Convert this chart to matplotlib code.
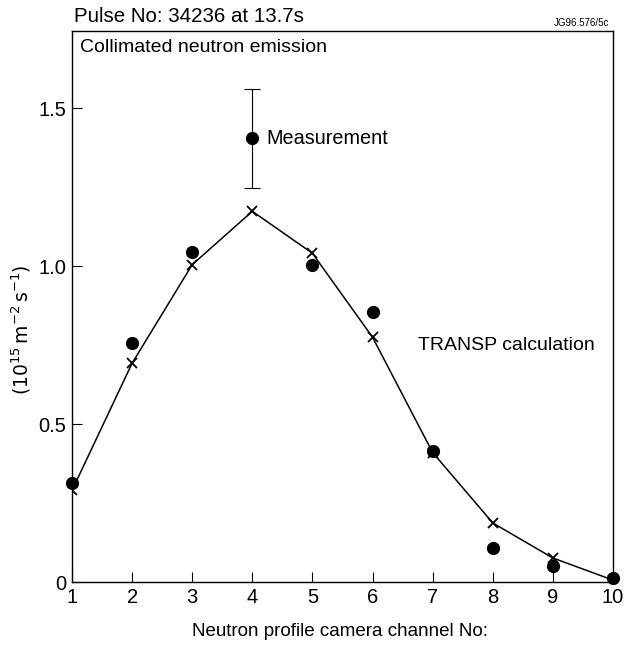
import numpy as np
import matplotlib.pyplot as plt

plt.rcParams['font.family'] = ['Liberation Sans', 'DejaVu Sans']

# camera channels and emission values (10^15 m^-2 s^-1)
channel = np.arange(1, 11)
measured = [0.313, 0.756, 1.044, 1.405, 1.003, 0.854, 0.415, 0.108, 0.05, 0.013]
transp = [0.29, 0.693, 1.005, 1.174, 1.041, 0.775, 0.41, 0.187, 0.076, 0.006]
err_ch = 4
err_lo, err_hi = 1.247, 1.56

xticks = list(range(1, 11))
yticks = [0, 0.5, 1.0, 1.5]
yticklabels = ['0', '0.5', '1.0', '1.5']

fig = plt.figure(figsize=(6.24, 6.45), dpi=100)
ax = fig.add_axes([72/624, 1-582/645, (613-72)/624, (582-31)/645])

ax.plot(channel, transp, color='black', lw=1.1, marker='x', ms=7, mew=1.3, zorder=3)
ax.plot(channel, measured, 'o', color='black', ms=8.5, ls='none', zorder=4, clip_on=False)

m4 = measured[err_ch - 1]
ax.errorbar([err_ch], [m4], yerr=[[m4 - err_lo], [err_hi - m4]], fmt='none',
            ecolor='black', elinewidth=0.8, capsize=6, capthick=0.8)

ax.set_xlim(1, 10)
ax.set_ylim(0, 1.745)
ax.set_xticks(xticks)
ax.set_yticks(yticks)
ax.set_yticklabels(yticklabels)
ax.tick_params(direction='in', length=7, width=0.8, labelsize=14.5, pad=4)
for s in ax.spines.values():
    s.set_linewidth(1.0)

ax.text(4.23, m4, 'Measurement', fontsize=14.3, va='center', ha='left')
ax.text(6.75, 0.75, 'TRANSP calculation', fontsize=14, va='center', ha='left')
ax.text(0.015, 0.985, 'Collimated neutron emission', transform=ax.transAxes,
        fontsize=14, va='top', ha='left')

fig.text(74/624, 1-17/645, 'Pulse No: 34236 at 13.7s', fontsize=14.8, va='center', ha='left')
fig.text(609/624, 1-23/645, 'JG96.576/5c', fontsize=7, va='center', ha='right')

fig.text(340/624, 1-631/645, 'Neutron profile camera channel No:', fontsize=13.5,
         va='center', ha='center')
fig.text(21/624, 1-330/645, r'$(10^{15}\,\mathrm{m}^{-2}\,\mathrm{s}^{-1})$', fontsize=13.5,
         va='center', ha='center', rotation=90)

fig.savefig('out.png', dpi=100)
